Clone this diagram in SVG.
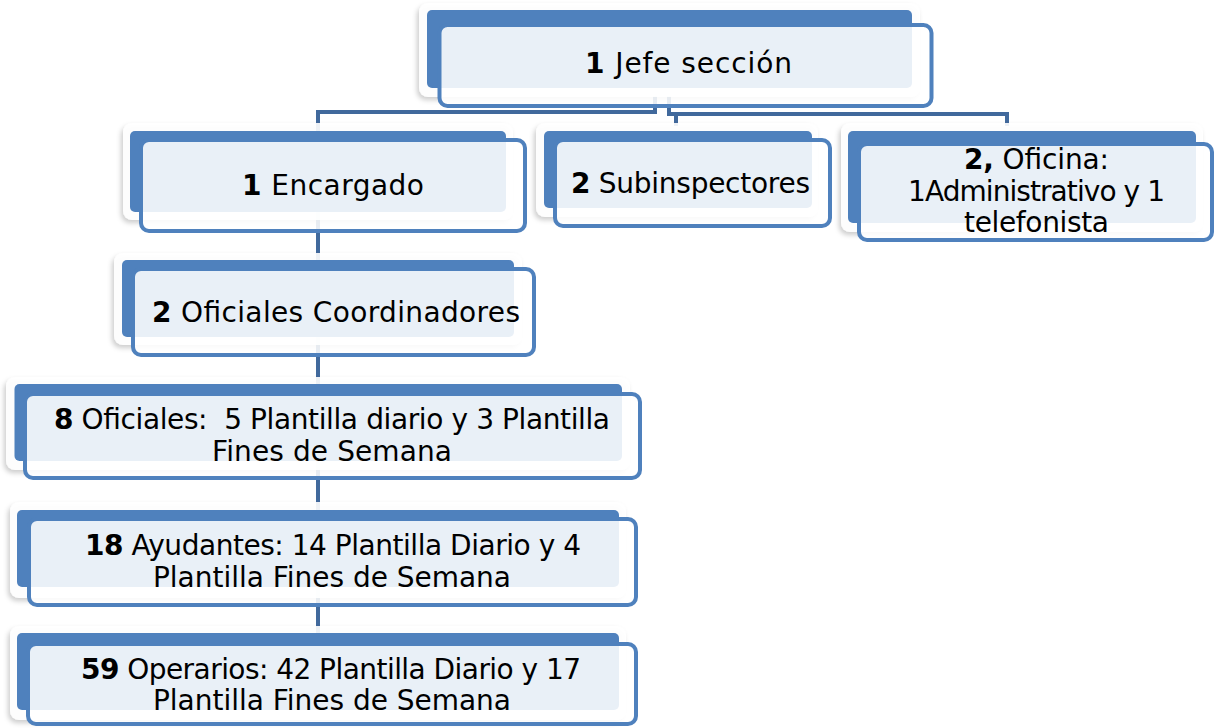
<svg xmlns="http://www.w3.org/2000/svg" width="1218" height="728" viewBox="0 0 1218 728">
<defs>
<filter id="sh" x="-10%" y="-20%" width="120%" height="150%">
<feDropShadow dx="-2" dy="3" stdDeviation="2.5" flood-color="#000" flood-opacity="0.22"/>
</filter>
<style>
.frame{fill:#fff;fill-opacity:0.9;filter:url(#sh)}
.back{fill:#4F81BD}
.front{fill:#fff;fill-opacity:0.88;stroke:#4F81BD;stroke-width:4}
.conn{fill:none;stroke:#41699C;stroke-width:4}
.t{font-family:"DejaVu Sans","Liberation Sans",sans-serif;font-size:28px;fill:#000;text-anchor:middle}
.b{font-weight:bold}
</style>
</defs>
<rect width="1218" height="728" fill="#fff"/>
<g id="connectors">
<path class="conn" d="M655 96 V112 H318 V640"/>
<path class="conn" d="M669 96 V114 H1007 V126"/>
<path class="conn" d="M676 114 V126"/>
</g>
<g id="n-jefe">
<rect class="frame" x="419" y="3" width="501" height="94" rx="9"/>
<rect class="back" x="427" y="10" width="485" height="78" rx="5"/>
<rect class="front" x="439.5" y="25" width="492" height="81" rx="8"/>
<text class="t" x="688.5" y="73" textLength="207"><tspan class="b">1</tspan> Jefe sección</text>
</g>
<g id="n-encargado">
<rect class="frame" x="123" y="123" width="390" height="97" rx="9"/>
<rect class="back" x="130" y="131" width="376" height="81" rx="5"/>
<rect class="front" x="141" y="140" width="384" height="91" rx="8"/>
<text class="t" x="333" y="195" textLength="182"><tspan class="b">1</tspan> Encargado</text>
</g>
<g id="n-subinspectores">
<rect class="frame" x="536" y="123" width="282" height="94" rx="9"/>
<rect class="back" x="544" y="131" width="268" height="77" rx="5"/>
<rect class="front" x="555" y="140" width="275" height="86" rx="8"/>
<text class="t" x="690.5" y="193" textLength="239"><tspan class="b">2</tspan> Subinspectores</text>
</g>
<g id="n-oficina">
<rect class="frame" x="841" y="123" width="362" height="109" rx="9"/>
<rect class="back" x="848" y="131" width="348" height="92" rx="5"/>
<rect class="front" x="859" y="144" width="353" height="96" rx="8"/>
<text class="t" x="1036.5" y="169" textLength="145"><tspan class="b">2,</tspan> Oficina:</text>
<text class="t" x="1036.5" y="201" textLength="257">1Administrativo y 1</text>
<text class="t" x="1036.5" y="232" textLength="145">telefonista</text>
</g>
<g id="n-coordinadores">
<rect class="frame" x="114" y="253" width="408" height="92" rx="9"/>
<rect class="back" x="122" y="260" width="392" height="77" rx="5"/>
<rect class="front" x="133" y="269" width="401" height="86" rx="8"/>
<text class="t" x="336" y="322" textLength="368"><tspan class="b">2</tspan> Oficiales Coordinadores</text>
</g>
<g id="n-oficiales">
<rect class="frame" x="6" y="377" width="624" height="93" rx="9"/>
<rect class="back" x="14.5" y="384" width="607.5" height="77" rx="5"/>
<rect class="front" x="25" y="394" width="615" height="84" rx="8"/>
<text class="t" x="332" y="429" textLength="556" xml:space="preserve"><tspan class="b">8</tspan> Oficiales:  5 Plantilla diario y 3 Plantilla</text>
<text class="t" x="332" y="461" textLength="240">Fines de Semana</text>
</g>
<g id="n-ayudantes">
<rect class="frame" x="10" y="502" width="616" height="96" rx="9"/>
<rect class="back" x="17" y="510" width="602" height="77" rx="5"/>
<rect class="front" x="29" y="519" width="607" height="86" rx="8"/>
<text class="t" x="333" y="555" textLength="496"><tspan class="b">18</tspan> Ayudantes: 14 Plantilla Diario y 4</text>
<text class="t" x="332" y="587" textLength="358">Plantilla Fines de Semana</text>
</g>
<g id="n-operarios">
<rect class="frame" x="10" y="626" width="616" height="94" rx="9"/>
<rect class="back" x="17" y="633" width="602" height="77" rx="5"/>
<rect class="front" x="28" y="644" width="608" height="80" rx="8"/>
<text class="t" x="331" y="679" textLength="500"><tspan class="b">59</tspan> Operarios: 42 Plantilla Diario y 17</text>
<text class="t" x="332" y="710" textLength="358">Plantilla Fines de Semana</text>
</g>
</svg>
